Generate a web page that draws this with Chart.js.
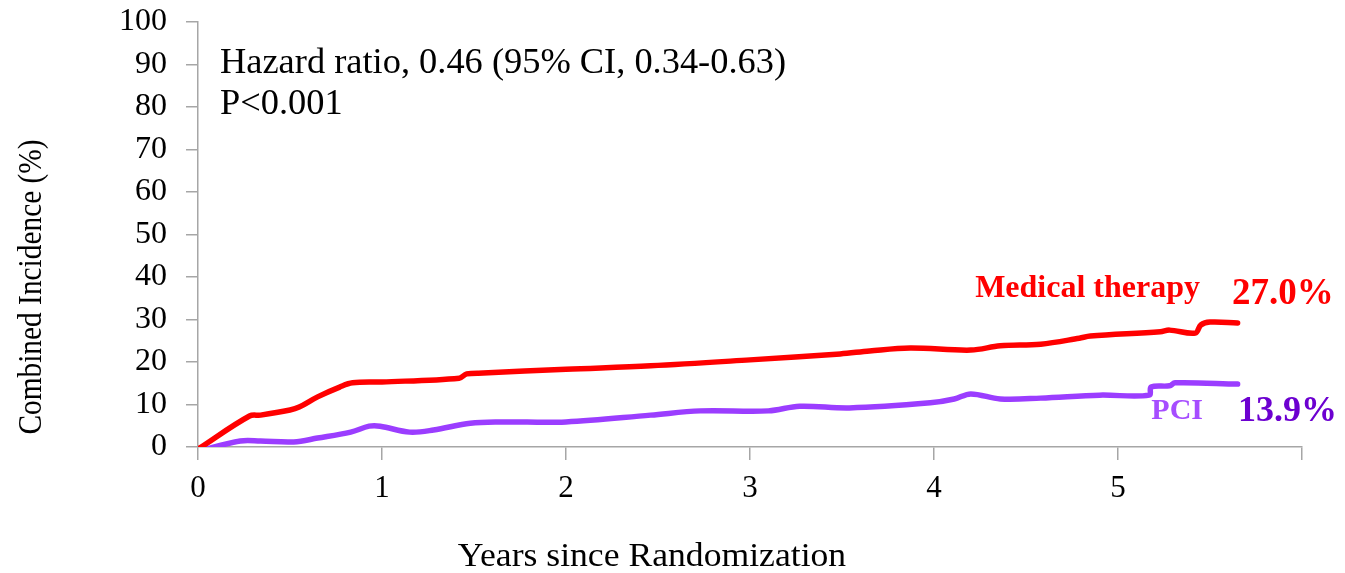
<!DOCTYPE html>
<html>
<head>
<meta charset="utf-8">
<script src="https://cdn.jsdelivr.net/npm/chart.js@4/dist/chart.umd.min.js"></script>
<style>
  html, body { margin:0; padding:0; background:#fff; }
  #wrap { width:1345px; height:573px; position:relative; }
</style>
</head>
<body>
<div id="wrap"><canvas id="km"></canvas></div>
<script>
// years since randomization / cumulative incidence (%)
const medYears = [0, 0.28, 0.34, 0.50, 0.55, 0.65, 0.77, 0.84, 1.0, 1.42, 1.46, 1.55, 2.0, 2.46, 3.0, 3.49, 3.65, 3.87, 4.2, 4.36, 4.58, 4.79, 4.85, 5.23, 5.28, 5.42, 5.45, 5.5, 5.65];
const medValues = [-0.5, 7.3, 7.5, 8.7, 9.4, 11.8, 14.1, 15.1, 15.3, 16.2, 17.2, 17.4, 18.3, 19.1, 20.5, 21.9, 22.6, 23.3, 22.8, 23.8, 24.2, 25.6, 26.1, 27.1, 27.5, 26.8, 28.7, 29.4, 29.2];

const pciYears = [0, 0.23, 0.34, 0.52, 0.65, 0.83, 0.93, 0.99, 1.15, 1.28, 1.48, 1.64, 2.0, 2.46, 2.73, 3.1, 3.27, 3.54, 3.98, 4.11, 4.2, 4.36, 4.58, 4.9, 5.17, 5.18, 5.28, 5.31, 5.65];
const pciValues = [-1.0, 1.4, 1.4, 1.2, 2.1, 3.5, 4.9, 4.9, 3.5, 4.0, 5.6, 5.9, 5.9, 7.5, 8.5, 8.5, 9.6, 9.2, 10.4, 11.3, 12.5, 11.3, 11.5, 12.2, 12.2, 14.1, 14.4, 15.1, 14.8];

const xTicks = [0, 1, 2, 3, 4, 5, 6];
const yTicks = [0, 10, 20, 30, 40, 50, 60, 70, 80, 90, 100];

const seriesNames = ['Medical therapy', 'PCI'];
const finalRates = ['27.0%', '13.9%'];
const statLines = ['Hazard ratio, 0.46 (95% CI, 0.34-0.63)', 'P<0.001'];
const xTitle = 'Years since Randomization';
const yTitle = 'Combined Incidence (%)';

const SERIF = '"Liberation Serif", "Times New Roman", serif';
const AXIS = '#a6a6a6';

const toPts = (xs, ys) => xs.map((x, i) => ({ x, y: ys[i] }));

function stretched(ctx, text, x, y, sx) {
  ctx.save();
  ctx.translate(x, y);
  ctx.scale(sx, 1);
  ctx.fillText(text, 0, 0);
  ctx.restore();
}

// text overlays: titles, stats in the corner, labels at the curve ends
const notes = {
  id: 'notes',
  afterDraw(chart) {
    const { ctx } = chart;
    ctx.save();
    ctx.textBaseline = 'alphabetic';
    ctx.fillStyle = '#000';

    ctx.font = '35px ' + SERIF;
    ctx.textAlign = 'left';
    stretched(ctx, statLines[0], 220, 73, 1.04);
    stretched(ctx, statLines[1], 220, 114, 1.04);

    // axis titles
    ctx.font = '33px ' + SERIF;
    ctx.textAlign = 'center';
    stretched(ctx, xTitle, 652, 566, 1.08);
    ctx.save();
    ctx.translate(41, 287);
    ctx.rotate(-Math.PI / 2);
    ctx.scale(0.89, 1);
    ctx.fillText(yTitle, 0, 0);
    ctx.restore();

    // curve labels
    ctx.textAlign = 'right';
    ctx.font = 'bold 32px ' + SERIF;
    ctx.fillStyle = '#ff0000';
    ctx.fillText(seriesNames[0], 1200, 297);
    ctx.font = 'bold 30px ' + SERIF;
    ctx.fillStyle = '#a64dff';
    ctx.fillText(seriesNames[1], 1203, 419);

    ctx.textAlign = 'left';
    ctx.font = 'bold 37px ' + SERIF;
    ctx.fillStyle = '#ff0000';
    ctx.fillText(finalRates[0], 1232, 304);
    ctx.font = 'bold 36px ' + SERIF;
    ctx.fillStyle = '#6c00d0';
    ctx.fillText(finalRates[1], 1238, 421);
    ctx.restore();
  }
};

new Chart(document.getElementById('km'), {
  type: 'line',
  data: {
    datasets: [
      { label: seriesNames[0], data: toPts(medYears, medValues), borderColor: '#ff0000', borderWidth: 5.5, pointRadius: 0, tension: 0.35, borderCapStyle: 'round' },
      { label: seriesNames[1], data: toPts(pciYears, pciValues), borderColor: '#9b3dff', borderWidth: 5.5, pointRadius: 0, tension: 0.35, borderCapStyle: 'round' }
    ]
  },
  options: {
    responsive: true,
    maintainAspectRatio: false,
    animation: false,
    layout: { padding: { top: 22, right: 43, left: 0, bottom: 0 } },
    plugins: { legend: { display: false }, tooltip: { enabled: false } },
    scales: {
      x: {
        type: 'linear', min: 0, max: 6,
        afterBuildTicks: s => { s.ticks = xTicks.map(v => ({ value: v })); },
        afterFit: s => { s.height = 126; s.paddingLeft = 0; s.paddingRight = 0; },
        ticks: { color: '#000', font: { family: SERIF, size: 31 }, padding: 10, maxRotation: 0, autoSkip: false,
                 callback: v => v === 6 ? '' : String(v) },
        grid: { display: true, drawOnChartArea: false, drawTicks: true, tickLength: 13, color: AXIS, lineWidth: 1.5 },
        border: { color: AXIS, width: 1.5 }
      },
      y: {
        min: 0, max: 100,
        afterBuildTicks: s => { s.ticks = yTicks.map(v => ({ value: v })); },
        afterFit: s => { s.width = 198; s.paddingTop = 0; s.paddingBottom = 0; },
        ticks: { color: '#000', font: { family: SERIF, size: 32 }, padding: 19, autoSkip: false },
        grid: { display: true, drawOnChartArea: false, drawTicks: true, tickLength: 12, color: AXIS, lineWidth: 1.5 },
        border: { color: AXIS, width: 1.5 }
      }
    }
  },
  plugins: [notes]
});
</script>
</body>
</html>
